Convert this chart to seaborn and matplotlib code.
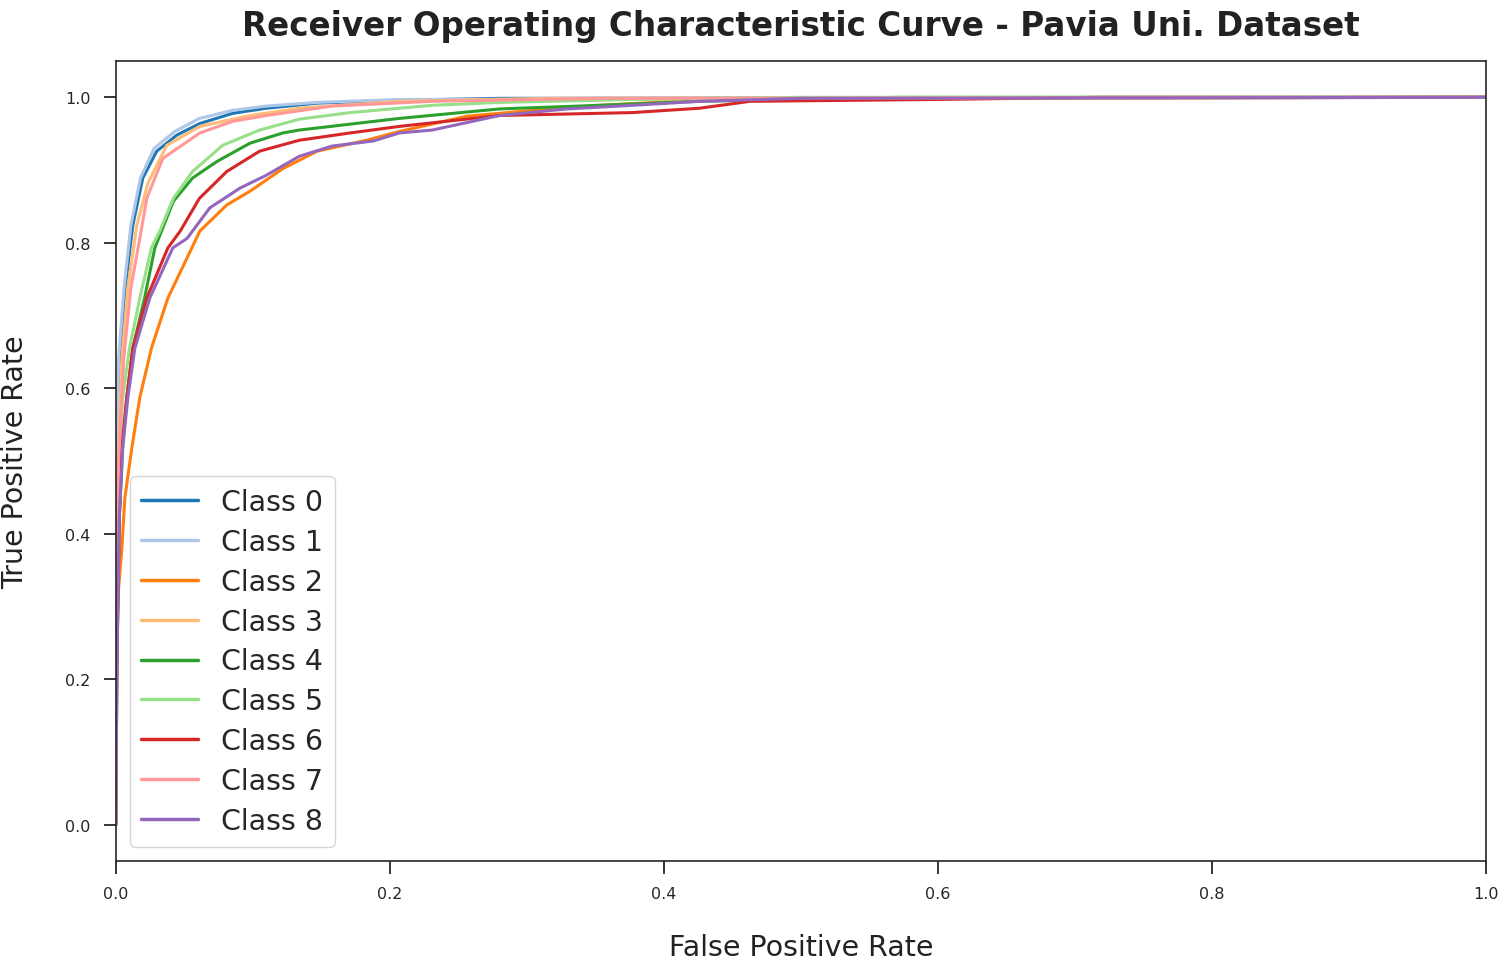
import numpy as np
import pandas as pd
import matplotlib
matplotlib.use("Agg")
import matplotlib.pyplot as plt
import seaborn as sns

# --- ROC points (fpr, tpr) ---
classes = ["Class 0", "Class 1", "Class 2", "Class 3", "Class 4",
           "Class 5", "Class 6", "Class 7", "Class 8"]

fpr0 = [0.0, 0.0003, 0.0012, 0.0029, 0.0066, 0.0124, 0.0197, 0.0299, 0.0445, 0.0613, 0.0854, 0.110, 0.147, 0.207, 0.280, 1.0]
tpr0 = [0.0, 0.25, 0.50, 0.641, 0.734, 0.824, 0.889, 0.926, 0.948, 0.964, 0.978, 0.985, 0.992, 0.996, 0.9986, 1.0]

fpr1 = [0.0, 0.0002, 0.001, 0.002, 0.006, 0.011, 0.018, 0.028, 0.043, 0.061, 0.085, 0.110, 0.147, 0.207, 1.0]
tpr1 = [0.0, 0.25, 0.50, 0.641, 0.738, 0.824, 0.889, 0.930, 0.953, 0.971, 0.982, 0.988, 0.993, 0.997, 1.0]

fpr2 = [0.0, 0.0005, 0.0015, 0.0044, 0.0066, 0.0117, 0.0175, 0.026, 0.038, 0.0555, 0.0613, 0.081, 0.098, 0.122, 0.147, 0.183, 0.207, 0.256, 0.304, 0.353, 0.426, 0.572, 1.0]
tpr2 = [0.0, 0.20, 0.312, 0.380, 0.449, 0.518, 0.587, 0.655, 0.724, 0.793, 0.816, 0.852, 0.871, 0.902, 0.926, 0.941, 0.953, 0.974, 0.982, 0.989, 0.996, 0.9986, 1.0]

fpr3 = [0.0, 0.0004, 0.0018, 0.0044, 0.0088, 0.0153, 0.0234, 0.0372, 0.0613, 0.098, 0.134, 0.207, 0.317, 1.0]
tpr3 = [0.0, 0.25, 0.50, 0.641, 0.738, 0.824, 0.882, 0.934, 0.960, 0.975, 0.985, 0.9945, 0.9986, 1.0]

fpr4 = [0.0, 0.0008, 0.0025, 0.005, 0.008, 0.0124, 0.021, 0.0285, 0.042, 0.056, 0.074, 0.098, 0.122, 0.134, 0.207, 0.280, 0.353, 0.426, 0.572, 1.0]
tpr4 = [0.0, 0.22, 0.42, 0.518, 0.587, 0.655, 0.724, 0.793, 0.857, 0.889, 0.912, 0.937, 0.951, 0.955, 0.971, 0.984, 0.989, 0.9945, 1.0, 1.0]

fpr5 = [0.0, 0.0006, 0.002, 0.003, 0.005, 0.010, 0.0175, 0.026, 0.032, 0.042, 0.056, 0.078, 0.105, 0.134, 0.171, 0.231, 0.280, 0.377, 0.50, 1.0]
tpr5 = [0.0, 0.22, 0.42, 0.518, 0.587, 0.655, 0.724, 0.793, 0.816, 0.861, 0.898, 0.934, 0.955, 0.970, 0.979, 0.989, 0.993, 0.997, 1.0, 1.0]

fpr6 = [0.0, 0.0008, 0.0025, 0.0044, 0.008, 0.0124, 0.0226, 0.038, 0.047, 0.061, 0.081, 0.105, 0.134, 0.171, 0.207, 0.280, 0.377, 0.426, 0.463, 0.596, 0.718, 1.0]
tpr6 = [0.0, 0.22, 0.42, 0.518, 0.587, 0.655, 0.724, 0.793, 0.816, 0.861, 0.898, 0.926, 0.941, 0.951, 0.960, 0.975, 0.979, 0.985, 0.9945, 0.997, 1.0, 1.0]

fpr7 = [0.0, 0.0005, 0.002, 0.0058, 0.011, 0.0175, 0.0226, 0.0343, 0.0613, 0.0854, 0.110, 0.158, 0.231, 0.353, 1.0]
tpr7 = [0.0, 0.25, 0.50, 0.641, 0.738, 0.806, 0.861, 0.916, 0.951, 0.967, 0.975, 0.988, 0.9945, 0.9986, 1.0]

fpr8 = [0.0, 0.0008, 0.0025, 0.005, 0.0088, 0.0139, 0.0248, 0.0416, 0.052, 0.0686, 0.0905, 0.110, 0.134, 0.158, 0.188, 0.207, 0.231, 0.280, 0.329, 0.377, 0.426, 0.50, 1.0]
tpr8 = [0.0, 0.22, 0.42, 0.518, 0.587, 0.655, 0.724, 0.793, 0.806, 0.848, 0.875, 0.893, 0.919, 0.933, 0.940, 0.951, 0.955, 0.975, 0.984, 0.989, 0.9945, 0.9986, 1.0]

fprs = [fpr0, fpr1, fpr2, fpr3, fpr4, fpr5, fpr6, fpr7, fpr8]
tprs = [tpr0, tpr1, tpr2, tpr3, tpr4, tpr5, tpr6, tpr7, tpr8]

# --- long form table for seaborn ---
rows = []
for name, f, t in zip(classes, fprs, tprs):
    for a, b in zip(f, t):
        rows.append({"cls": name, "fpr": a, "tpr": b})
df = pd.DataFrame(rows)

sns.set_style("ticks")
palette = sns.color_palette("tab20", 9)

fig, ax = plt.subplots(figsize=(15.04, 9.62), dpi=100)
fig.subplots_adjust(left=0.077, right=0.988, bottom=0.104, top=0.9356)

sns.lineplot(data=df, x="fpr", y="tpr", hue="cls", palette=palette,
             estimator=None, sort=False, linewidth=2.2, ax=ax)

ax.set_xlim(0, 1)
ax.set_ylim(-0.05, 1.05)
ax.set_xticks(np.arange(0, 1.01, 0.2))
ax.set_yticks(np.arange(0, 1.01, 0.2))
ax.tick_params(axis="both", labelsize=11.5, length=9, width=1.3, pad=9)
for s in ax.spines.values():
    s.set_linewidth(1.2)

ax.set_title("Receiver Operating Characteristic Curve - Pavia Uni. Dataset",
             fontsize=23.5, fontweight="bold", pad=19, color="#222222")
ax.set_xlabel("False Positive Rate", fontsize=20.5, labelpad=23, color="#222222")
ax.set_ylabel("True Positive Rate", fontsize=20.5, labelpad=26, color="#222222")

leg = ax.legend(loc="lower left", fontsize=20.5, title=None, labelspacing=0.42)
for line in leg.get_lines():
    line.set_linewidth(2.5)

plt.savefig("out.png", dpi=100)
